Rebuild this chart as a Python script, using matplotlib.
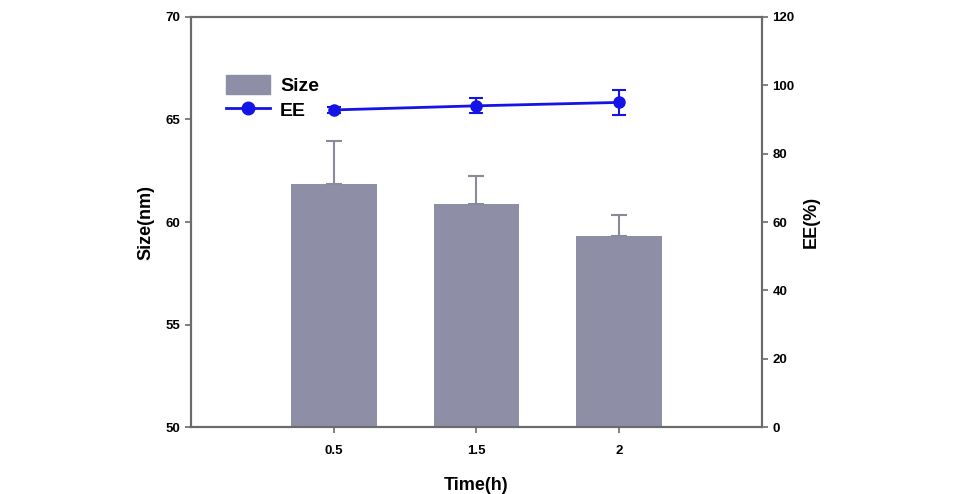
import matplotlib.pyplot as plt
from matplotlib.lines import Line2D
from matplotlib.patches import Patch

times = ["0.5", "1.5", "2"]
size_nm = [61.85, 60.88, 59.32]
size_err = [2.1, 1.36, 1.02]
ee_pct = [92.8, 94.0, 95.0]
ee_err = [1.0, 2.2, 3.7]

bar_color = "#8e8fa6"
line_color = "#1414e6"
spine_color = "#6b6b6b"


def main():
    plt.rcParams["font.family"] = ["Liberation Sans", "DejaVu Sans"]
    plt.rcParams["font.weight"] = "bold"
    fig = plt.figure(figsize=(9.63, 4.94), dpi=100)
    ax = fig.add_axes([0.1983, 0.1356, 0.5930, 0.8300])
    x = range(1, len(times) + 1)

    ax.bar(x, size_nm, width=0.6, color=bar_color, zorder=2,
           yerr=[[0] * len(size_err), size_err],
           error_kw=dict(ecolor="#8a8a98", elinewidth=1.5, capsize=6, capthick=1.5))
    ax.set_xlim(0, 4)
    ax.set_ylim(50, 70)
    ax.set_yticks([50, 55, 60, 65, 70])
    ax.set_xticks(list(x))
    ax.set_xticklabels(times)
    ax.set_xlabel("Time(h)", fontsize=13, fontweight="bold", labelpad=14)
    ax.set_ylabel("Size(nm)", fontsize=13, fontweight="bold", labelpad=8)

    ax2 = ax.twinx()
    ax2.errorbar(x, ee_pct, yerr=ee_err, color=line_color, marker="o",
                 markersize=8, linewidth=2, capsize=5, capthick=1.5,
                 elinewidth=1.5, zorder=3)
    ax2.set_ylim(0, 120)
    ax2.set_yticks([0, 20, 40, 60, 80, 100, 120])
    ax2.set_ylabel("EE(%)", fontsize=13, fontweight="bold", labelpad=6)

    for a in (ax, ax2):
        for sp in a.spines.values():
            sp.set_color(spine_color)
            sp.set_linewidth(1.5)
        a.tick_params(colors=spine_color, labelcolor="black", labelsize=9.5,
                      length=4, width=1.2)
        for lab in a.get_xticklabels() + a.get_yticklabels():
            lab.set_fontweight("bold")
    ax.tick_params(axis="x", pad=9)

    handles = [Patch(color=bar_color),
               Line2D([], [], color=line_color, marker="o", markersize=9, linewidth=2)]
    ax.legend(handles, ["Size", "EE"], loc="upper left",
              bbox_to_anchor=(0.03, 0.90), frameon=False,
              prop=dict(size=14, weight="bold"), handlelength=2.3,
              handleheight=1.1, labelspacing=0.25, handletextpad=0.5)

    fig.savefig("out.png", dpi=100)


if __name__ == "__main__":
    main()
